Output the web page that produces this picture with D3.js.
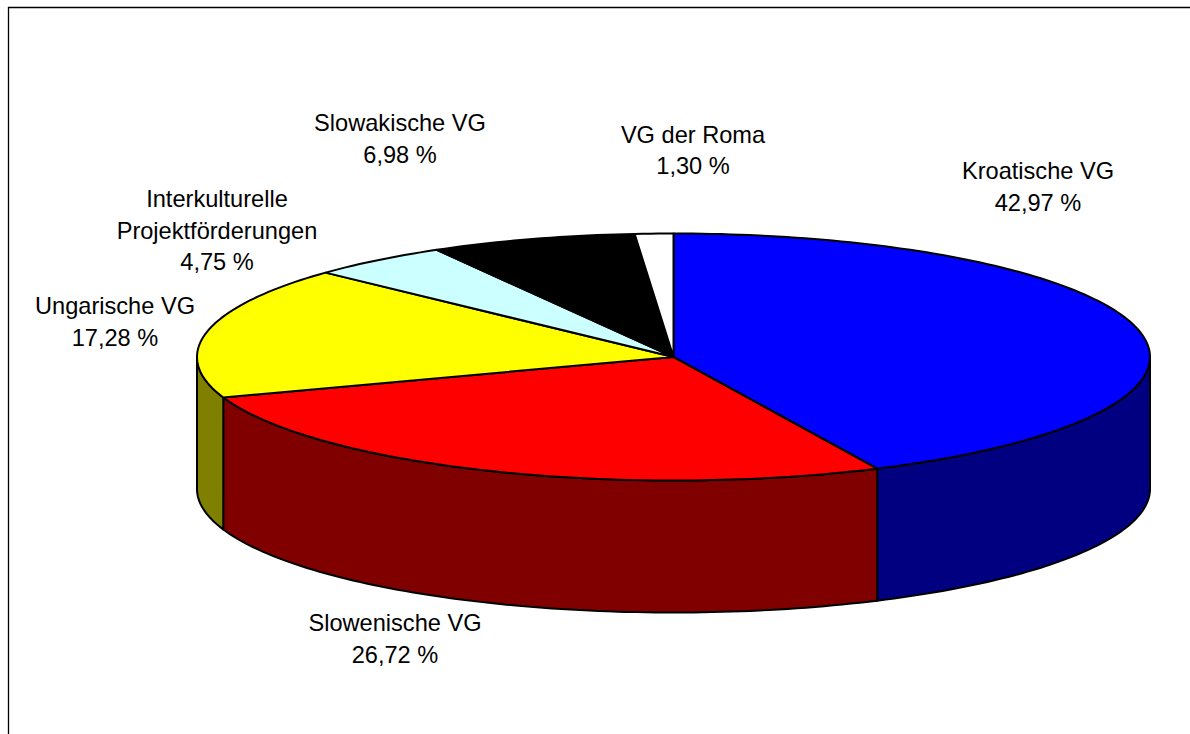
<!DOCTYPE html>
<html>
<head>
<meta charset="utf-8">
<script src="https://cdn.jsdelivr.net/npm/d3@7"></script>
<style>
  html, body { margin: 0; padding: 0; background: #fff; }
  svg { display: block; }
  text { font-family: "Liberation Sans", Arial, sans-serif; font-size: 23.6px; fill: #000; }
</style>
</head>
<body>
<div id="chartContainer"></div>
<script>
var categories = ["Kroatische VG", "Slowenische VG", "Ungarische VG", "Interkulturelle Projektförderungen", "Slowakische VG", "VG der Roma"];
var shares = [42.97, 26.72, 17.28, 4.75, 6.98, 1.30];
var shareLabels = ["42,97 %", "26,72 %", "17,28 %", "4,75 %", "6,98 %", "1,30 %"];
var topColors = ["#0000ff", "#ff0000", "#ffff00", "#ccffff", "#000000", "#ffffff"];
var sideColors = ["#000080", "#800000", "#808000", "#668080", "#000000", "#808080"];

var width = 1190;
var height = 734;
var cx = 673.5, cy = 357, rx = 476.5, ry = 123.5, depth = 132;

// label lines, one entry per category (centre x, first baseline)
var labelLines = [
  ["Kroatische VG"], ["Slowenische VG"], ["Ungarische VG"],
  ["Interkulturelle", "Projektförderungen"], ["Slowakische VG"], ["VG der Roma"]
];
var labelPos = [[1038, 179], [395, 631], [115, 314], [217, 207], [400, 131], [693, 142.5]];
var lineGap = 31.5;

var svg = d3.select('#chartContainer')
    .append('svg')
    .attr("width", width)
    .attr("height", height);

// frame, open to the right and bottom
svg.append("path")
    .attr("d", "M8.5,734V7.5H1190")
    .attr("fill", "none")
    .attr("stroke", "#000")
    .attr("stroke-width", 1.3);

var x = d3.scaleLinear().domain([-1, 1]).range([cx - rx, cx + rx]);
var y = d3.scaleLinear().domain([-1, 1]).range([cy - ry, cy + ry]);

var pie = d3.pie().sort(null).value(function(d) { return d; });
var slices = pie(shares);

function px(a) { return x(Math.sin(a)); }
function py(a, drop) { return y(-Math.cos(a)) + (drop || 0); }

// points along the rim between two angles
function rim(a0, a1, drop) {
  var n = Math.max(2, Math.ceil((a1 - a0) / 0.02));
  return d3.range(n + 1).map(function(i) {
    var a = a0 + (a1 - a0) * i / n;
    return [px(a), py(a, drop)];
  });
}

var line = d3.line();

/***** Side wall, only the front half (90 to 270 degrees) shows *****/
var sides = svg.append("g");
slices.forEach(function(s, i) {
  var a0 = Math.max(s.startAngle, Math.PI / 2);
  var a1 = Math.min(s.endAngle, Math.PI * 1.5);
  if (a1 <= a0) return;
  var pts = rim(a0, a1, 0).concat(rim(a0, a1, depth).reverse());
  sides.append("path")
      .attr("d", line(pts) + "Z")
      .attr("fill", sideColors[i])
      .attr("stroke", "#000")
      .attr("stroke-width", 2)
      .attr("stroke-linejoin", "round");
});

/***** Top face *****/
var tops = svg.append("g");
slices.forEach(function(s, i) {
  var pts = [[x(0), y(0)]].concat(rim(s.startAngle, s.endAngle, 0));
  tops.append("path")
      .attr("d", line(pts) + "Z")
      .attr("fill", topColors[i])
      .attr("stroke", "#000")
      .attr("stroke-width", 2)
      .attr("stroke-linejoin", "round");
});

/***** Labels *****/
var labels = svg.append("g").attr("text-anchor", "middle");
categories.forEach(function(c, i) {
  var lines = labelLines[i].concat([shareLabels[i]]);
  lines.forEach(function(t, j) {
    labels.append("text")
        .attr("x", labelPos[i][0])
        .attr("y", labelPos[i][1] + j * lineGap)
        .text(t);
  });
});
</script>
</body>
</html>
